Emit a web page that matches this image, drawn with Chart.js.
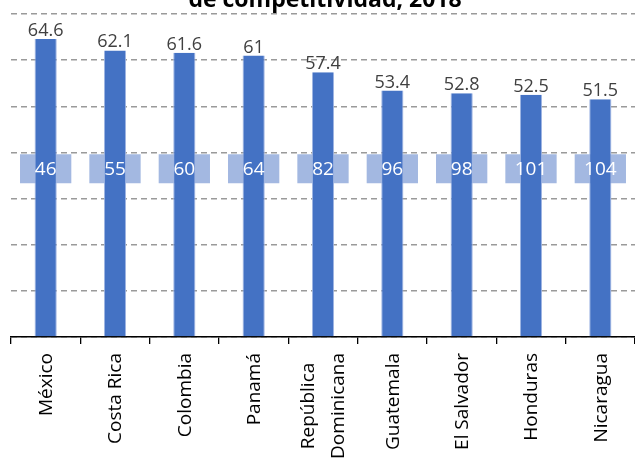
<!DOCTYPE html>
<html>
<head>
<meta charset="utf-8">
<script src="https://cdn.jsdelivr.net/npm/chart.js@4.4.1/dist/chart.umd.min.js"></script>
<style>
  html, body { margin: 0; padding: 0; background: #fff; }
  #wrap { width: 635px; height: 458px; position: relative; }
</style>
</head>
<body>
<div id="wrap"><canvas id="grafico"></canvas></div>
<script>
// datos del gráfico
const paises = ["México", "Costa Rica", "Colombia", "Panamá", ["República", "Dominicana"],
  "Guatemala", "El Salvador", "Honduras", "Nicaragua"];
const puntaje = [64.6, 62.1, 61.6, 61, 57.4, 53.4, 52.8, 52.5, 51.5];
const ranking = [46, 55, 60, 64, 82, 96, 98, 101, 104];
const tituloVisible = "de competitividad, 2018";

// franja donde se dibujan las cajas del ranking (en unidades del eje y)
const cajaDesde = 33.3;
const cajaHasta = 39.6;

const fuente = "'Open Sans', 'Noto Sans', sans-serif";

// etiquetas: valores, ranking, categorías y título
const etiquetas = {
  id: "etiquetas",
  afterDatasetsDraw(chart) {
    const ctx = chart.ctx;
    ctx.save();
    // valores sobre las barras
    const metaBarras = chart.getDatasetMeta(0);
    ctx.font = "18px " + fuente;
    ctx.fillStyle = "#404040";
    ctx.textAlign = "center";
    ctx.textBaseline = "alphabetic";
    metaBarras.data.forEach((el, i) => {
      ctx.fillText(String(puntaje[i]), el.x, el.y - 3);
    });
    // ranking en blanco
    const metaCajas = chart.getDatasetMeta(1);
    ctx.font = "19px " + fuente;
    ctx.fillStyle = "#ffffff";
    ctx.textBaseline = "middle";
    metaCajas.data.forEach((el, i) => {
      ctx.fillText(String(ranking[i]), el.x, (el.y + el.base) / 2 + 1);
    });
    ctx.restore();
  },
  afterDraw(chart) {
    const ctx = chart.ctx;
    const escalaX = chart.scales.x;
    const arriba = chart.chartArea.bottom + 16;
    ctx.save();
    ctx.font = "19px " + fuente;
    ctx.fillStyle = "#000";
    ctx.textBaseline = "middle";
    ctx.textAlign = "center";
    paises.forEach((p, i) => {
      const lineas = Array.isArray(p) ? p : [p];
      const anchos = lineas.map(l => ctx.measureText(l).width);
      const maxAncho = Math.max(...anchos);
      const cx = escalaX.getPixelForTick(i);
      lineas.forEach((l, j) => {
        const dx = (j - (lineas.length - 1) / 2) * 30;
        ctx.save();
        ctx.translate(cx + dx + 1, arriba + maxAncho / 2);
        ctx.rotate(-Math.PI / 2);
        ctx.fillText(l, 0, 0);
        ctx.restore();
      });
    });
    // título (solo la última línea queda dentro del lienzo)
    ctx.font = "bold 23px " + fuente;
    ctx.fillStyle = "#000";
    ctx.textAlign = "center";
    ctx.textBaseline = "alphabetic";
    ctx.fillText(tituloVisible, 325, 6.5);
    ctx.restore();
  }
};

const ctx = document.getElementById("grafico").getContext("2d");
new Chart(ctx, {
  type: "bar",
  data: {
    labels: paises,
    datasets: [
      {
        label: "Puntaje",
        data: puntaje,
        backgroundColor: "#4472c4",
        borderColor: "#9fb5e3",
        borderWidth: { left: 1, right: 1, top: 0, bottom: 0 },
        borderSkipped: false,
        barPercentage: 0.32,
        categoryPercentage: 1,
        grouped: false,
        order: 1
      },
      {
        label: "Ranking",
        data: ranking.map(() => [cajaDesde, cajaHasta]),
        backgroundColor: "#a3b8e1",
        borderWidth: 0,
        barPercentage: 0.74,
        categoryPercentage: 1,
        grouped: false,
        order: 2
      }
    ]
  },
  options: {
    responsive: true,
    maintainAspectRatio: false,
    animation: false,
    layout: { padding: { top: 14, left: 11, right: 0, bottom: 114 } },
    plugins: {
      legend: { display: false },
      tooltip: { enabled: false },
      title: { display: false }
    },
    scales: {
      x: {
        offset: true,
        border: { display: true, color: "#000", width: 1.5 },
        grid: {
          display: true,
          offset: true,
          drawOnChartArea: false,
          drawTicks: true,
          tickLength: 7,
          color: "#000",
          lineWidth: 1.3
        },
        ticks: { display: false }
      },
      y: {
        min: 0,
        max: 70,
        border: { display: false, dash: [6, 4] },
        grid: {
          color: "#9a9a9a",
          lineWidth: 1.5,
          drawTicks: false
        },
        ticks: { display: false, stepSize: 10 }
      }
    }
  },
  plugins: [etiquetas]
});
</script>
</body>
</html>
